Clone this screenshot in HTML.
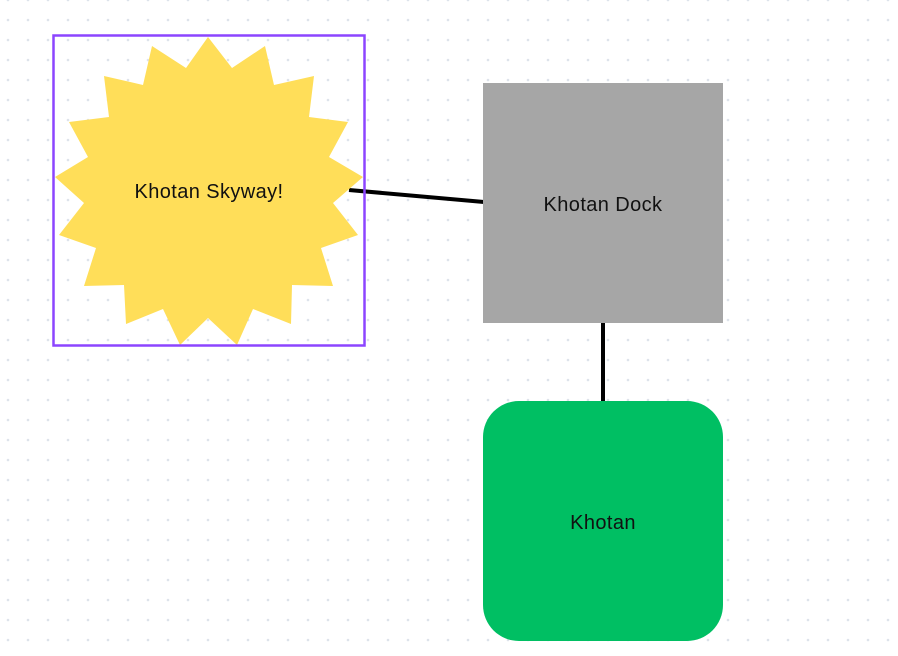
<!DOCTYPE html>
<html><head><style>
html,body{margin:0;padding:0}
body{width:898px;height:656px;overflow:hidden;background:#fff;position:relative;font-family:"Liberation Sans",sans-serif}
svg{position:absolute;left:0;top:0}
</style></head><body>
<svg width="898" height="656" viewBox="0 0 898 656">
<defs><pattern id="d" x="-2" y="-10" width="20" height="20" patternUnits="userSpaceOnUse"><circle cx="10" cy="10" r="1.3" fill="#dde3eb"/></pattern></defs>
<rect width="898" height="656" fill="url(#d)"/>
<line x1="349" y1="190" x2="484" y2="202" stroke="#000" stroke-width="4"/>
<line x1="603" y1="322" x2="603" y2="402" stroke="#000" stroke-width="4"/>
<polygon fill="#ffde59" points="208,37 232,68 265,46 274,85 314,76 309,117 348,122 329,157 363,177 333,203 358,235 321,248 333,286 292,285 291,324 253,309 237,345 208,318 180,345 163,309 126,324 124,285 84,286 96,248 59,235 84,203 55,177 88,157 69,122 109,117 104,76 143,85 152,46 186,68"/>
<rect x="53.5" y="35.5" width="311" height="310" fill="none" stroke="#8c45ff" stroke-width="2.5"/>
<rect x="483" y="83" width="240" height="240" fill="#a6a6a6"/>
<rect x="483" y="401" width="240" height="240" rx="36" fill="#00bf63"/>
<g font-size="20" text-anchor="middle" font-family="Liberation Sans, sans-serif" fill="#111" letter-spacing="0.4">
<text x="209" y="198">Khotan Skyway!</text>
<text x="603" y="211">Khotan Dock</text>
<text x="603" y="529">Khotan</text>
</g>
</svg>
</body></html>
